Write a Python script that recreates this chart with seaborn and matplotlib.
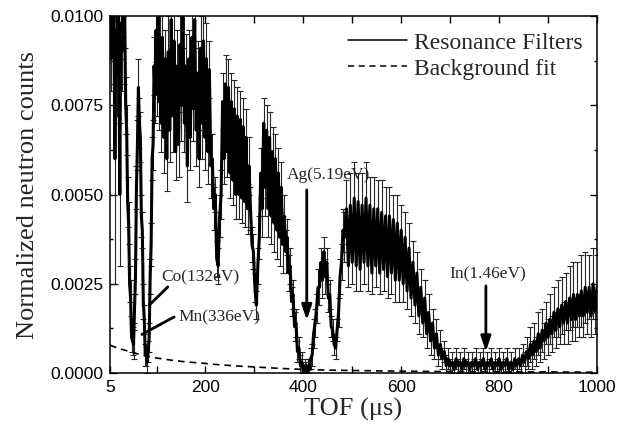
import matplotlib
matplotlib.use("Agg")
import matplotlib.pyplot as plt
import numpy as np
import pandas as pd
import seaborn as sns
from matplotlib.lines import Line2D
from matplotlib.ticker import FixedLocator, FormatStrFormatter

# ---------------- data ----------------
tof_a = list(range(5, 110, 2))
counts_a = [0.0100, 0.0088, 0.0104, 0.0090, 0.0101, 0.0060, 0.0096, 0.0084, 0.0102, 0.0092,
            0.0050, 0.0098, 0.0090, 0.0104, 0.0092, 0.0100, 0.0075, 0.0068, 0.0048, 0.0042,
            0.0025, 0.0021, 0.0010, 0.0009, 0.0008, 0.0018, 0.0027, 0.0052, 0.0064, 0.0080,
            0.0070, 0.0066, 0.0044, 0.0040, 0.0020, 0.0015, 0.0005, 0.0005, 0.0003, 0.0006,
            0.0010, 0.0027, 0.0036, 0.0060, 0.0064, 0.0086, 0.0078, 0.0096, 0.0080, 0.0100,
            0.0076, 0.0094, 0.0070]
err_a = [0.0010, 0.0009, 0.0012, 0.0009, 0.0010, 0.0035, 0.0010, 0.0012, 0.0010, 0.0011,
         0.0020, 0.0010, 0.0011, 0.0010, 0.0011, 0.0009, 0.0008, 0.0007, 0.0007, 0.0006,
         0.0005, 0.0005, 0.0004, 0.0004, 0.0004, 0.0004, 0.0005, 0.0006, 0.0007, 0.0008,
         0.0007, 0.0007, 0.0006, 0.0005, 0.0005, 0.0004, 0.0003, 0.0003, 0.0003, 0.0003,
         0.0004, 0.0005, 0.0006, 0.0006, 0.0007, 0.0008, 0.0008, 0.0009, 0.0008, 0.0009,
         0.0008, 0.0009, 0.0008]

tof_b = list(range(112, 485, 3))
counts_b = [0.0094, 0.0066, 0.0088, 0.0060, 0.0090, 0.0068, 0.0099, 0.0072, 0.0093, 0.0062,
            0.0086, 0.0064, 0.0092, 0.0075, 0.0100, 0.0070, 0.0086, 0.0058, 0.0088, 0.0066,
            0.0094, 0.0074, 0.0099, 0.0068, 0.0084, 0.0060, 0.0091, 0.0070, 0.0093, 0.0066,
            0.0088, 0.0062, 0.0085, 0.0058,
            0.0060, 0.0046, 0.0050, 0.0032, 0.0030, 0.0044,
            0.0050, 0.0076, 0.0060, 0.0081, 0.0062, 0.0080, 0.0056, 0.0076, 0.0054, 0.0074,
            0.0050, 0.0072, 0.0050, 0.0071, 0.0049, 0.0069, 0.0048, 0.0066, 0.0046, 0.0058,
            0.0046, 0.0036, 0.0034, 0.0024, 0.0019, 0.0030, 0.0038,
            0.0056, 0.0046, 0.0070, 0.0052, 0.0068, 0.0046, 0.0066, 0.0044, 0.0062, 0.0042,
            0.0060, 0.0040, 0.0056, 0.0038, 0.0052, 0.0036,
            0.0044, 0.0034, 0.0038, 0.0028, 0.0030, 0.0020, 0.0022, 0.0013, 0.0014, 0.0006,
            0.0007, 0.0002, 0.0003, 0.0000,
            0.0002, 0.0000, 0.0002, 0.0001, 0.0004, 0.0005,
            0.0011, 0.0014, 0.0018, 0.0024, 0.0024, 0.0031, 0.0026, 0.0034, 0.0027, 0.0031,
            0.0021, 0.0022, 0.0013, 0.0012, 0.0008, 0.0007, 0.0012, 0.0017, 0.0027, 0.0031,
            0.0040, 0.0038]
err_b = [0.0009, 0.0010, 0.0008, 0.0009, 0.0010, 0.0009, 0.0008, 0.0010, 0.0009, 0.0008,
         0.0010, 0.0009, 0.0008, 0.0010, 0.0009, 0.0008, 0.0009, 0.0010, 0.0008, 0.0009,
         0.0010, 0.0009, 0.0008, 0.0010, 0.0009, 0.0008, 0.0009, 0.0010, 0.0008, 0.0009,
         0.0010, 0.0009, 0.0008, 0.0009, 0.0007, 0.0006, 0.0005, 0.0005, 0.0005, 0.0006,
         0.0007, 0.0008, 0.0007, 0.0008, 0.0007, 0.0008, 0.0007, 0.0008, 0.0007, 0.0008,
         0.0007, 0.0008, 0.0007, 0.0008, 0.0007, 0.0008, 0.0007, 0.0008, 0.0007, 0.0008,
         0.0006, 0.0005, 0.0005, 0.0004, 0.0004, 0.0005, 0.0006, 0.0007, 0.0008, 0.0007,
         0.0008, 0.0007, 0.0008, 0.0007, 0.0008, 0.0007, 0.0008, 0.0007, 0.0008, 0.0007,
         0.0008, 0.0007, 0.0008, 0.0006, 0.0006, 0.0005, 0.0005, 0.0005, 0.0004, 0.0004,
         0.0004, 0.0004, 0.0003, 0.0003, 0.0003, 0.0003, 0.0003, 0.0002, 0.0003, 0.0002,
         0.0003, 0.0003, 0.0003, 0.0004, 0.0004, 0.0004, 0.0005, 0.0005, 0.0004, 0.0005,
         0.0004, 0.0005, 0.0004, 0.0004, 0.0004, 0.0003, 0.0003, 0.0003, 0.0003, 0.0003,
         0.0004, 0.0005, 0.0005, 0.0006, 0.0007]

tof_c = list(range(488, 1001, 4))
counts_c = [0.0046, 0.0030, 0.0047, 0.0031, 0.0049, 0.0030, 0.0048, 0.0029, 0.0047, 0.0031,
            0.0049, 0.0030, 0.0047, 0.0028, 0.0046, 0.0030, 0.0046, 0.0028, 0.0045, 0.0029,
            0.0044, 0.0027, 0.0044, 0.0028, 0.0043, 0.0026, 0.0042, 0.0026, 0.0040, 0.0025,
            0.0038, 0.0023, 0.0035, 0.0021,
            0.0031, 0.0019, 0.0028, 0.0016, 0.0024, 0.0014, 0.0021, 0.0011, 0.0017, 0.0009,
            0.0014, 0.0007, 0.0011, 0.0005, 0.0008, 0.0004, 0.0006, 0.0002, 0.0004, 0.0002,
            0.0003, 0.0001, 0.0004, 0.0002, 0.0003, 0.0001, 0.0004, 0.0002, 0.0003, 0.0001,
            0.0003, 0.0002, 0.0004, 0.0001, 0.0003, 0.0002, 0.0004, 0.0001, 0.0003, 0.0002,
            0.0004, 0.0001, 0.0003, 0.0002, 0.0004, 0.0001, 0.0003, 0.0002, 0.0004, 0.0001,
            0.0003, 0.0001, 0.0004, 0.0002,
            0.0004, 0.0002, 0.0005,
            0.0003, 0.0006, 0.0004, 0.0008, 0.0005, 0.0009, 0.0006, 0.0011, 0.0007, 0.0012,
            0.0009, 0.0014, 0.0010, 0.0015, 0.0011, 0.0017, 0.0012, 0.0018, 0.0013, 0.0019,
            0.0014, 0.0020, 0.0014, 0.0021, 0.0015, 0.0022, 0.0015, 0.0022, 0.0016, 0.0023,
            0.0016, 0.0024, 0.0017, 0.0024, 0.0016, 0.0025, 0.0017, 0.0024]
err_c = [0.0008, 0.0006, 0.0009, 0.0006, 0.0010, 0.0007, 0.0008, 0.0006, 0.0009, 0.0006,
         0.0010, 0.0007, 0.0008, 0.0006, 0.0009, 0.0006, 0.0008, 0.0006, 0.0009, 0.0006,
         0.0008, 0.0006, 0.0008, 0.0006, 0.0007, 0.0006, 0.0008, 0.0006, 0.0007, 0.0005,
         0.0007, 0.0005, 0.0007, 0.0005, 0.0006, 0.0005, 0.0006, 0.0005, 0.0005, 0.0004,
         0.0005, 0.0004, 0.0005, 0.0004, 0.0004, 0.0003, 0.0004, 0.0003, 0.0004, 0.0003,
         0.0003, 0.0003, 0.0003, 0.0002,
         0.0003, 0.0002, 0.0003, 0.0002, 0.0003, 0.0002, 0.0003, 0.0002, 0.0003, 0.0002,
         0.0003, 0.0002, 0.0003, 0.0002, 0.0003, 0.0002, 0.0003, 0.0002, 0.0003, 0.0002,
         0.0003, 0.0002, 0.0003, 0.0002, 0.0003, 0.0002, 0.0003, 0.0002, 0.0003, 0.0002,
         0.0003, 0.0002, 0.0003, 0.0002,
         0.0003, 0.0002, 0.0003,
         0.0003, 0.0004, 0.0003, 0.0005, 0.0004, 0.0005, 0.0004, 0.0006, 0.0004, 0.0006,
         0.0005, 0.0006, 0.0005, 0.0007, 0.0005, 0.0007, 0.0005, 0.0008, 0.0005, 0.0008,
         0.0006, 0.0008, 0.0006, 0.0009, 0.0006, 0.0009, 0.0006, 0.0009, 0.0006, 0.0010,
         0.0006, 0.0010, 0.0006, 0.0009, 0.0006, 0.0010, 0.0006, 0.0009]

bg_tof = [5, 20, 40, 60, 80, 100, 130, 160, 190, 220, 260, 300, 350, 400, 450, 500,
          600, 700, 800, 900, 1000]
bg_counts = [0.00078, 0.00070, 0.00062, 0.00054, 0.00047, 0.00042, 0.00036, 0.00031,
             0.00028, 0.00024, 0.00020, 0.00017, 0.00013, 0.00010, 0.00008, 0.00007,
             0.00005, 0.00004, 0.00003, 0.00003, 0.00002]

x_ticks = [5, 200, 400, 600, 800, 1000]
x_minor = [100, 300, 500, 700, 900]
y_ticks = [0.0, 0.0025, 0.0050, 0.0075, 0.0100]

legend_labels = ["Resonance Filters", "Background fit"]

for a, b, c in ((tof_a, counts_a, err_a), (tof_b, counts_b, err_b), (tof_c, counts_c, err_c)):
    assert len(a) == len(b) == len(c), (len(a), len(b), len(c))

df = pd.DataFrame({
    "tof": tof_a + tof_b + tof_c,
    "counts": counts_a + counts_b + counts_c,
    "err": err_a + err_b + err_c,
})
bg = pd.DataFrame({"tof": bg_tof, "counts": bg_counts})

# ---------------- plotting ----------------
sns.set_style("ticks")
plt.rcParams["font.family"] = ["Liberation Sans", "DejaVu Sans"]
SERIF = ["Liberation Serif", "DejaVu Serif"]

fig = plt.figure(figsize=(6.33, 4.33), dpi=100)
ax = fig.add_axes([0.1738, 0.1386, 0.7693, 0.8244])

ax.errorbar(df["tof"], df["counts"], yerr=df["err"], fmt="none", ecolor="#262626",
            elinewidth=0.8, capsize=2.5, capthick=0.8, zorder=2)
sns.lineplot(data=df, x="tof", y="counts", color="black", linewidth=2.2, ax=ax,
             estimator=None, sort=False, zorder=3)
sns.lineplot(data=bg, x="tof", y="counts", color="black", linewidth=1.2, ax=ax,
             estimator=None, sort=False, linestyle=(0, (4, 3)), zorder=4)

ax.set_xlim(5, 1000)
ax.set_ylim(0, 0.0100)
ax.xaxis.set_major_locator(FixedLocator(x_ticks))
ax.xaxis.set_minor_locator(FixedLocator(x_minor))
ax.yaxis.set_major_locator(FixedLocator(y_ticks))
ax.yaxis.set_minor_locator(FixedLocator([0.00125, 0.00375, 0.00625, 0.00875]))
ax.yaxis.set_major_formatter(FormatStrFormatter("%.4f"))
ax.set_xticklabels([str(v) for v in x_ticks])

ax.tick_params(which="both", direction="in", top=True, right=True, width=1.0,
               labelsize=12.5, colors="black")
ax.tick_params(which="major", length=5, pad=5)
ax.tick_params(which="minor", length=2.5)
ax.tick_params(axis="x", which="minor", length=5)
for s in ax.spines.values():
    s.set_linewidth(1.1)
    s.set_color("black")

ax.set_xlabel("TOF (\u03bcs)", fontsize=19, family=SERIF, labelpad=2)
ax.set_ylabel("Normalized neutron counts", fontsize=19, family=SERIF, labelpad=8)

handles = [Line2D([], [], color="black", lw=1.1),
           Line2D([], [], color="black", lw=1.1, linestyle=(0, (4, 3)))]
ax.legend(handles, legend_labels, loc="upper right", frameon=False,
          prop={"family": SERIF, "size": 17}, handlelength=2.5, handletextpad=0.3,
          borderaxespad=0.2, labelspacing=0.2, bbox_to_anchor=(1.0, 0.995))

arrow = dict(arrowstyle="-|>,head_length=0.6,head_width=0.2", lw=2, color="black",
             mutation_scale=15, shrinkA=0, shrinkB=0)
line = dict(arrowstyle="-", lw=2, color="black", shrinkA=0, shrinkB=0)

ax.annotate("", xy=(407, 0.00148), xytext=(407, 0.00513), arrowprops=arrow, zorder=6)
ax.text(451, 0.00555, "Ag(5.19eV)", ha="center", va="center", fontsize=12.5, family=SERIF)

ax.annotate("", xy=(773, 0.00060), xytext=(773, 0.00244), arrowprops=arrow, zorder=6)
ax.text(777, 0.00275, "In(1.46eV)", ha="center", va="center", fontsize=12.5, family=SERIF)

ax.annotate("", xy=(85, 0.0019), xytext=(123, 0.00241), arrowprops=line, zorder=6)
ax.text(109, 0.00268, "Co(132eV)", ha="left", va="center", fontsize=12.5, family=SERIF)

ax.annotate("", xy=(70, 0.00108), xytext=(136, 0.00157), arrowprops=line, zorder=6)
ax.text(144, 0.00157, "Mn(336eV)", ha="left", va="center", fontsize=12.5, family=SERIF)

fig.savefig("out.png", dpi=100)
